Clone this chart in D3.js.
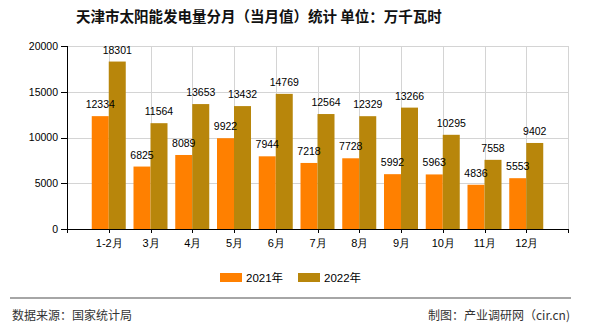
<!DOCTYPE html>
<html>
<head>
<meta charset="utf-8">
<script src="https://cdn.jsdelivr.net/npm/d3@7"></script>
<style>
  body { margin: 0; background: #fff; }
  svg { display: block; font-family: "Liberation Sans", "Noto Sans CJK SC", sans-serif; }
  .grid line { stroke: #d4d4d4; stroke-width: 1; }
  .axis path, .axis line { stroke: #000; shape-rendering: crispEdges; }
  .axis text { font-size: 11px; fill: #000; }
</style>
</head>
<body>
<script>
// monthly output, 10k kWh
const months = ["1-2月", "3月", "4月", "5月", "6月", "7月", "8月", "9月", "10月", "11月", "12月"];
const years = ["2021年", "2022年"];
const values2021 = [12334, 6825, 8089, 9922, 7944, 7218, 7728, 5992, 5963, 4836, 5553];
const values2022 = [18301, 11564, 13653, 13432, 14769, 12564, 12329, 13266, 10295, 7558, 9402];
const yTicks = [0, 5000, 10000, 15000, 20000];
const colors = ["#ff8000", "#b8860b"];

const W = 590, H = 330;
const m = { left: 67, right: 568, top: 46, bottom: 229 };

const svg = d3.select("body").append("svg")
    .attr("width", W)
    .attr("height", H);

const x = d3.scalePoint()
    .domain(months)
    .range([m.left, m.right])
    .padding(1);

const xs = d3.scaleBand()
    .domain(years)
    .range([-17, 17]);

const y = d3.scaleLinear()
    .domain([0, 20000])
    .range([m.bottom, m.top]);

// gridlines
const grid = svg.append("g").attr("class", "grid");
grid.selectAll(".h")
    .data(yTicks.slice(1))
    .enter().append("line")
    .attr("x1", m.left).attr("x2", m.right)
    .attr("y1", d => Math.round(y(d)) + 0.5)
    .attr("y2", d => Math.round(y(d)) + 0.5);
grid.selectAll(".v")
    .data(months.map(d => x(d)).concat([m.right]))
    .enter().append("line")
    .attr("x1", d => Math.round(d) + 0.5).attr("x2", d => Math.round(d) + 0.5)
    .attr("y1", m.top).attr("y2", m.bottom);

// flatten both series into one list of bars
const series = [values2021, values2022];
const bars = [];
series.forEach((vals, i) => vals.forEach((v, j) => bars.push({ v: v, m: months[j], s: years[i], c: colors[i] })));

svg.append("g").selectAll("rect")
    .data(bars)
    .enter().append("rect")
    .attr("x", d => x(d.m) + xs(d.s))
    .attr("y", d => y(d.v))
    .attr("width", xs.bandwidth())
    .attr("height", d => m.bottom - y(d.v))
    .attr("fill", d => d.c);

// value labels on top of everything
svg.append("g").selectAll("text")
    .data(bars)
    .enter().append("text")
    .attr("x", d => x(d.m) + xs(d.s) + xs.bandwidth() / 2)
    .attr("y", d => y(d.v) - 8)
    .attr("text-anchor", "middle")
    .attr("fill", "#000")
    .style("font-size", "10.5px")
    .text(d => d.v);

// axes
svg.append("g")
    .attr("class", "axis")
    .attr("transform", `translate(${m.left},0)`)
    .call(d3.axisLeft(y).tickValues(yTicks).tickFormat(d3.format("d")).tickSize(6).tickPadding(3))
    .call(g => g.selectAll("text").style("font-size", "10.5px"));

svg.append("g")
    .attr("class", "axis")
    .attr("transform", `translate(0,${m.bottom})`)
    .call(d3.axisBottom(x).tickSize(4).tickPadding(6));

// title
svg.append("text")
    .attr("x", 76)
    .attr("y", 22)
    .style("font-size", "14.5px")
    .style("font-weight", "bold")
    .style("font-family", "'Noto Sans CJK SC', sans-serif")
    .attr("fill", "#111")
    .text("天津市太阳能发电量分月（当月值）统计 单位：万千瓦时");

// legend
const legend = svg.append("g").selectAll("g")
    .data(years)
    .enter().append("g")
    .attr("transform", (d, i) => `translate(${220 + i * 78},273)`);
legend.append("rect")
    .attr("width", 22).attr("height", 9)
    .attr("fill", (d, i) => colors[i]);
legend.append("text")
    .attr("x", 26).attr("y", 8.5)
    .style("font-size", "11.5px")
    .attr("fill", "#000")
    .text(d => d);

// footer
svg.append("line")
    .attr("x1", 10).attr("x2", 571)
    .attr("y1", 298).attr("y2", 298)
    .attr("stroke", "#888").attr("stroke-width", 1.5);

svg.append("text")
    .attr("x", 12).attr("y", 320)
    .style("font-size", "12px")
    .style("font-family", "'Noto Sans CJK SC', sans-serif")
    .attr("fill", "#333")
    .text("数据来源：国家统计局");

svg.append("text")
    .attr("x", 570).attr("y", 320)
    .attr("text-anchor", "end")
    .style("font-size", "12px")
    .style("font-family", "'Noto Sans CJK SC', sans-serif")
    .attr("fill", "#333")
    .text("制图：产业调研网（cir.cn)");
</script>
</body>
</html>
